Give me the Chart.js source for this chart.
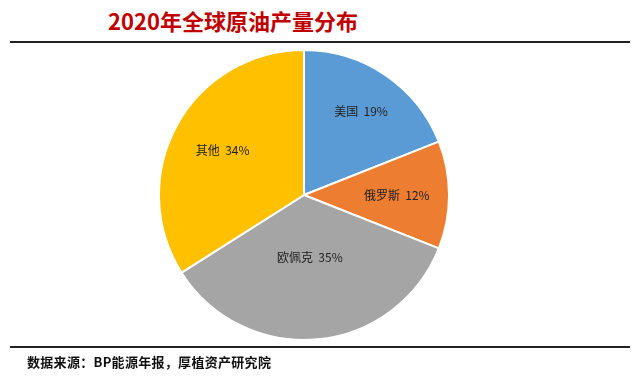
<!DOCTYPE html>
<html><head><meta charset="utf-8">
<script src="https://cdn.jsdelivr.net/npm/chart.js@4"></script>
<style>
html,body{margin:0;padding:0;background:#fff;}
#wrap{position:relative;width:640px;height:380px;overflow:hidden;font-family:"Noto Sans CJK SC","Noto Sans",sans-serif;}
#title{position:absolute;left:108px;top:4px;font-size:22px;font-weight:bold;color:#C00000;white-space:nowrap;line-height:32px;}
.rule{position:absolute;left:10px;width:620px;height:2px;background:#222;}
#foot{position:absolute;left:27px;top:353px;font-size:13px;font-weight:bold;color:#111;white-space:nowrap;line-height:18px;letter-spacing:0.3px;}
canvas{position:absolute;left:0;top:0;}
</style></head><body>
<div id="wrap">
<div id="title">2020年全球原油产量分布</div>
<div class="rule" style="top:41px"></div>
<canvas id="c" width="640" height="380"></canvas>
<div class="rule" style="top:346px"></div>
<div id="foot">数据来源：BP能源年报，厚植资产研究院</div>
</div>
<script>
const categories = ["美国", "俄罗斯", "欧佩克", "其他"];
const shares = [19, 12, 35, 34];
const colors = ["#5B9BD5", "#ED7D31", "#A5A5A5", "#FFC000"];
const labelRadius = [0.70, 0.64, 0.43, 0.64];

const labelPlugin = {
  id: 'sliceLabels',
  afterDatasetsDraw(chart) {
    const ctx = chart.ctx;
    const meta = chart.getDatasetMeta(0);
    ctx.save();
    ctx.font = '12px "Noto Sans CJK SC", sans-serif';
    ctx.fillStyle = '#222';
    ctx.textAlign = 'center';
    ctx.textBaseline = 'middle';
    meta.data.forEach((arc, i) => {
      const p = arc.getProps(['x','y','startAngle','endAngle','outerRadius'], true);
      const mid = (p.startAngle + p.endAngle) / 2;
      const r = p.outerRadius * labelRadius[i];
      const x = p.x + Math.cos(mid) * r;
      const y = p.y + Math.sin(mid) * r;
      ctx.fillText(categories[i] + '  ' + shares[i] + '%', x, y);
    });
    ctx.restore();
  }
};

new Chart(document.getElementById('c'), {
  type: 'pie',
  data: {
    labels: categories,
    datasets: [{
      data: shares,
      backgroundColor: colors,
      borderColor: '#ffffff',
      borderWidth: 2
    }]
  },
  options: {
    responsive: false,
    animation: false,
    layout: { padding: { top: 49, bottom: 39, left: 158, right: 190 } },
    plugins: { legend: { display: false }, tooltip: { enabled: false }, title: { display: false } }
  },
  plugins: [labelPlugin]
});
</script>
</body></html>
